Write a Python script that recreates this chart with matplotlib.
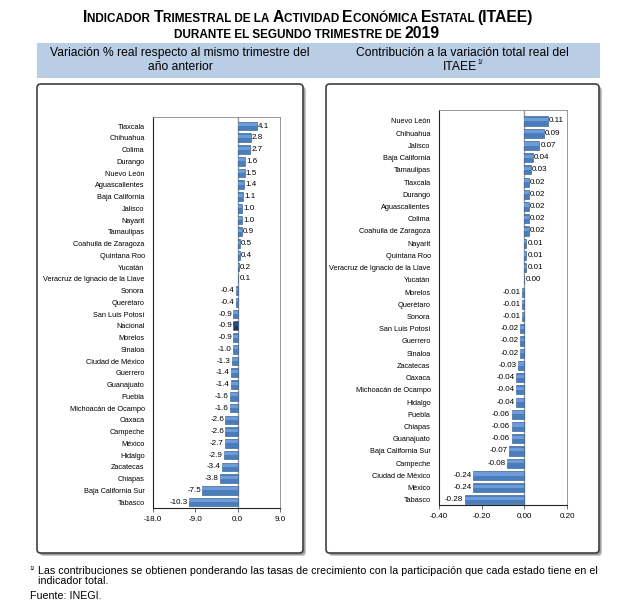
import matplotlib
matplotlib.use('Agg')
import matplotlib.pyplot as plt
from matplotlib.patches import FancyBboxPatch, Rectangle

plt.rcParams['font.family'] = ['Liberation Sans', 'DejaVu Sans']

# variación % real respecto al mismo trimestre del año anterior
var_estados = ['Tlaxcala', 'Chihuahua', 'Colima', 'Durango', 'Nuevo León', 'Aguascalientes',
               'Baja California', 'Jalisco', 'Nayarit', 'Tamaulipas', 'Coahuila de Zaragoza',
               'Quintana Roo', 'Yucatán', 'Veracruz de Ignacio de la Llave', 'Sonora', 'Querétaro',
               'San Luis Potosí', 'Nacional', 'Morelos', 'Sinaloa', 'Ciudad de México', 'Guerrero',
               'Guanajuato', 'Puebla', 'Michoacán de Ocampo', 'Oaxaca', 'Campeche', 'México',
               'Hidalgo', 'Zacatecas', 'Chiapas', 'Baja California Sur', 'Tabasco']
var_valores = [4.1, 2.8, 2.7, 1.6, 1.5, 1.4, 1.1, 1.0, 1.0, 0.9, 0.5, 0.4, 0.2, 0.1, -0.4, -0.4,
               -0.9, -0.9, -0.9, -1.0, -1.3, -1.4, -1.4, -1.6, -1.6, -2.6, -2.6, -2.7, -2.9, -3.4,
               -3.8, -7.5, -10.3]

# contribución a la variación total real del ITAEE
con_estados = ['Nuevo León', 'Chihuahua', 'Jalisco', 'Baja California', 'Tamaulipas', 'Tlaxcala',
               'Durango', 'Aguascalientes', 'Colima', 'Coahuila de Zaragoza', 'Nayarit',
               'Quintana Roo', 'Veracruz de Ignacio de la Llave', 'Yucatán', 'Morelos', 'Querétaro',
               'Sonora', 'San Luis Potosí', 'Guerrero', 'Sinaloa', 'Zacatecas', 'Oaxaca',
               'Michoacán de Ocampo', 'Hidalgo', 'Puebla', 'Chiapas', 'Guanajuato',
               'Baja California Sur', 'Campeche', 'Ciudad de México', 'México', 'Tabasco']
con_valores = [0.11, 0.09, 0.07, 0.04, 0.03, 0.02, 0.02, 0.02, 0.02, 0.02, 0.01, 0.01, 0.01, 0.00,
               -0.01, -0.01, -0.01, -0.02, -0.02, -0.02, -0.03, -0.04, -0.04, -0.04, -0.06, -0.06,
               -0.06, -0.07, -0.08, -0.24, -0.24, -0.28]

var_ticks = [-18.0, -9.0, 0.0, 9.0]
con_ticks = [-0.40, -0.20, 0.00, 0.20]

W, H = 631, 608
fig = plt.figure(figsize=(W / 100, H / 100), dpi=100)


def px(x, y):
    return x / W, 1 - y / H


# --- titulo en versalitas ---
def versalitas(y, partes, centro):
    r = fig.canvas.get_renderer()
    ts = []
    for s, size in partes:
        ts.append(fig.text(0, 1 - y / H, s, fontsize=size, weight='bold', va='baseline'))
    ws = [t.get_window_extent(r).width for t in ts]
    x = centro - sum(ws) / 2
    for t, w in zip(ts, ws):
        t.set_x(x / W)
        x += w
    return ts


B, S = 11.3, 8.5
versalitas(22, [('I', B), ('NDICADOR ', S), ('T', B), ('RIMESTRAL DE LA ', S), ('A', B),
                ('CTIVIDAD ', S), ('E', B), ('CONÓMICA ', S), ('E', B), ('STATAL ', S),
                ('(ITAEE)', B)], 308)
versalitas(38, [('DURANTE EL SEGUNDO TRIMESTRE DE ', S), ('2019', B)], 307)

# --- banda de encabezado ---
fig.patches.append(Rectangle(px(37, 78), (600 - 37) / W, 35 / H, transform=fig.transFigure,
                             facecolor='#b9cde5', edgecolor='none', zorder=-2))
fig.text(*px(180, 53), 'Variación % real respecto al mismo trimestre del',
         ha='center', va='center', fontsize=8.7)
fig.text(*px(180, 67), 'año anterior', ha='center', va='center', fontsize=8.7)
fig.text(*px(462, 53), 'Contribución a la variación total real del',
         ha='center', va='center', fontsize=8.7)
fig.text(*px(460, 67), 'ITAEE', ha='center', va='center', fontsize=8.7)
fig.text(*px(478, 63), '1/', ha='left', va='center', fontsize=4.8)

# --- recuadros ---
for x0, x1 in [(37, 303), (326, 599)]:
    for off, c in [(3, '#c8c8c8'), (2, '#a0a0a0')]:
        fig.patches.append(FancyBboxPatch(px(x0 + off, 553 + off), (x1 - x0) / W, (553 - 84) / H,
                                          boxstyle='round,pad=0,rounding_size=0.006',
                                          transform=fig.transFigure, facecolor=c,
                                          edgecolor='none', zorder=-2))
    fig.patches.append(FancyBboxPatch(px(x0, 553), (x1 - x0) / W, (553 - 84) / H,
                                      boxstyle='round,pad=0,rounding_size=0.006',
                                      transform=fig.transFigure, facecolor='white',
                                      edgecolor='#404040', linewidth=1.2, zorder=-1))


def panel(rect, cats, vals, ticks, ylim, fmt, off, tickfmt):
    ax = fig.add_axes(rect)
    ax.set_facecolor('none')
    n = len(cats)
    pos = list(range(n))
    colores = ['#1f3864' if c == 'Nacional' else '#4a7dbb' for c in cats]
    brillo = ['#2f4d7e' if c == 'Nacional' else '#6f9bd6' for c in cats]
    ax.barh(pos, vals, height=0.74, color=colores, edgecolor='#2b5487', linewidth=0.4, zorder=3)
    ax.barh([p - 0.12 for p in pos], vals, height=0.26, color=brillo, linewidth=0, zorder=4)
    ax.axvline(0, color='#9a9a9a', linewidth=1.0, zorder=2)
    for p, v in zip(pos, vals):
        if v >= 0:
            ax.text(v + off, p, fmt.format(v), ha='left', va='center', fontsize=5.8)
        else:
            ax.text(v - off, p, fmt.format(v), ha='right', va='center', fontsize=5.8)
    ax.set_xlim(ticks[0], ticks[-1])
    ax.set_ylim(*ylim)
    ax.set_xticks(ticks)
    ax.set_xticklabels([tickfmt.format(t) for t in ticks], fontsize=5.8)
    ax.set_yticks(pos)
    ax.set_yticklabels(cats, fontsize=5.3)
    ax.tick_params(axis='y', length=0, pad=6)
    ax.tick_params(axis='x', length=3, width=0.6, pad=3, color='#555555')
    for s in ['left', 'bottom']:
        ax.spines[s].set_color('#222222')
        ax.spines[s].set_linewidth(0.8)
    for s in ['top', 'right']:
        ax.spines[s].set_color('#888888')
        ax.spines[s].set_linewidth(0.6)
    return ax


n1 = len(var_estados)
panel([153 / W, 1 - 508 / H, 127 / W, (508 - 117) / H], var_estados, var_valores, var_ticks,
      (n1 - 1 + 0.5, -0.77), '{:.1f}', 0.25, '{:.1f}')
n2 = len(con_estados)
panel([439 / W, 1 - 505 / H, 128 / W, (505 - 110) / H], con_estados, con_valores, con_ticks,
      (n2 - 1 + 0.42, -0.9), '{:.2f}', 0.006, '{:.2f}')

# --- notas ---
fig.text(*px(29, 566), '1/', fontsize=4.5, va='top')
fig.text(*px(38, 566), 'Las contribuciones se obtienen ponderando las tasas de crecimiento con la '
         'participación que cada estado tiene en el\nindicador total.', fontsize=7.7,
         va='top', linespacing=1.0)
fig.text(*px(30, 591), 'Fuente: INEGI.', fontsize=7.7, va='top')

fig.savefig('out.png', dpi=100)
